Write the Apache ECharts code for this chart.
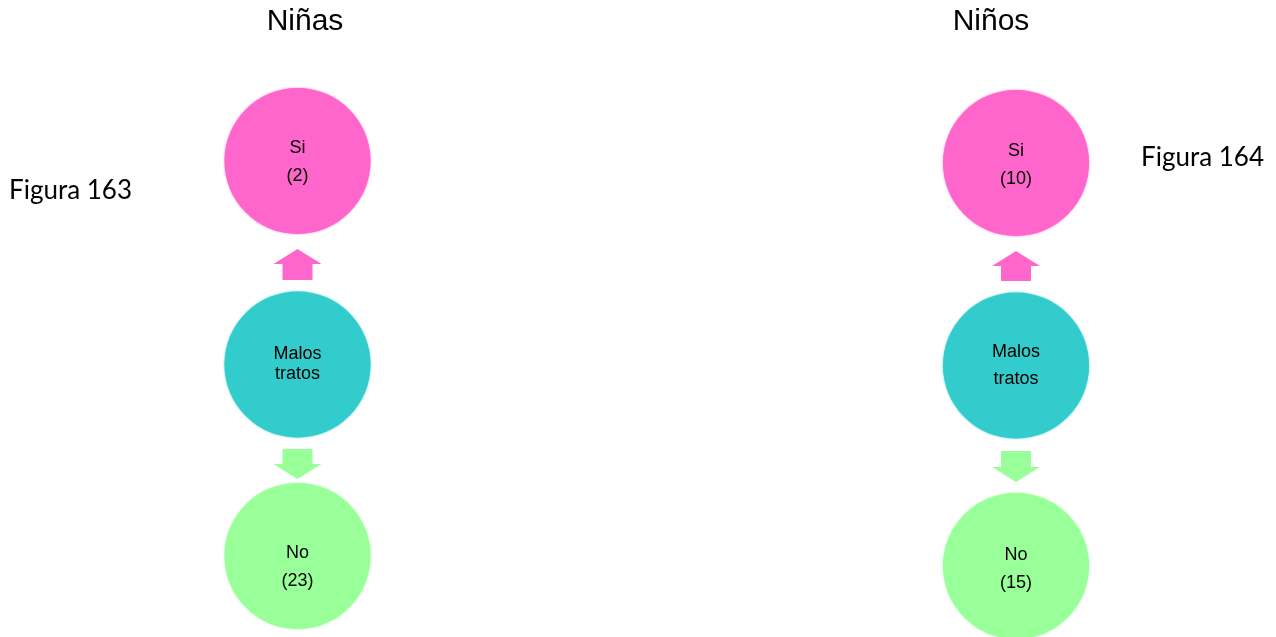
<!DOCTYPE html>
<html>
<head>
<meta charset="utf-8">
<script src="https://cdn.jsdelivr.net/npm/echarts@6/dist/echarts.min.js"></script>
<style>
html,body{margin:0;padding:0;background:#fff;}
#chart{width:1276px;height:637px;}
</style>
</head>
<body>
<div id="chart"></div>
<script>
// ---- data ----
var groups = ['Niñas', 'Niños'];
var figureLabels = ['Figura 163', 'Figura 164'];
var yesLabel = 'Si';
var noLabel = 'No';
var centerLabel = 'Malos\ntratos';
var yesValues = [2, 10];
var noValues = [23, 15];

// ---- layout (pixel space of a hidden 1276x637 value grid) ----
var layout = [
  { cx: 297.5, siY: 161, midY: 364.5, noY: 556, midLH: 20, upArrow: [249, 280], downArrow: [449, 479],
    titleX: 305, figX: 9, figY: 191, siOff: 1, noOff: 11 },
  { cx: 1016, siY: 163, midY: 365.5, noY: 566, midLH: 27, upArrow: [251, 281], downArrow: [451, 482],
    titleX: 991, figX: 1141, figY: 158, siOff: 2, noOff: 3 }
];
var R = 146;
var colors = { yes: '#FF66CC', mid: '#33CCCC', no: '#99FF99' };

var circleData = [];
groups.forEach(function (g, i) {
  var L = layout[i];
  circleData.push({ value: [L.cx, L.siY], name: yesLabel + '\n(' + yesValues[i] + ')',
    itemStyle: { color: colors.yes, shadowColor: colors.yes },
    label: { lineHeight: 28, offset: [0, L.siOff] } });
  circleData.push({ value: [L.cx, L.midY], name: centerLabel,
    itemStyle: { color: colors.mid, shadowColor: colors.mid },
    label: { lineHeight: L.midLH, offset: [0, 0] } });
  circleData.push({ value: [L.cx, L.noY], name: noLabel + '\n(' + noValues[i] + ')',
    itemStyle: { color: colors.no, shadowColor: colors.no },
    label: { lineHeight: 28, offset: [0, L.noOff] } });
});

var arrowData = [];
layout.forEach(function (L) {
  arrowData.push({ value: [L.cx, L.upArrow[0], L.upArrow[1], 1], itemStyle: { color: colors.yes } });
  arrowData.push({ value: [L.cx, L.downArrow[0], L.downArrow[1], -1], itemStyle: { color: colors.no } });
});

var graphics = [];
groups.forEach(function (g, i) {
  var L = layout[i];
  graphics.push({ type: 'text', x: L.titleX, y: 22,
    style: { text: g, font: '30px "Liberation Sans", Arial, sans-serif', fill: '#000',
      textAlign: 'center', textVerticalAlign: 'middle' } });
  graphics.push({ type: 'text', x: L.figX, y: L.figY,
    style: { text: figureLabels[i], font: '26px Lato, "Open Sans", sans-serif', fill: '#000',
      textAlign: 'left', textVerticalAlign: 'middle' } });
});

var chart = echarts.init(document.getElementById('chart'), null, { renderer: 'canvas' });
chart.setOption({
  animation: false,
  backgroundColor: '#fff',
  grid: { left: 0, right: 0, top: 0, bottom: 0 },
  xAxis: { type: 'value', min: 0, max: 1276, show: false },
  yAxis: { type: 'value', min: 0, max: 637, inverse: true, show: false },
  graphic: graphics,
  series: [
    {
      type: 'scatter',
      symbol: 'circle',
      symbolSize: R,
      data: circleData,
      itemStyle: { opacity: 1, shadowBlur: 2 },
      label: {
        show: true, position: 'inside',
        formatter: function (p) { return p.name; },
        color: '#000', fontSize: 18, fontFamily: '"Liberation Sans", Arial, sans-serif'
      },
      emphasis: { disabled: true },
      silent: true
    },
    {
      type: 'custom',
      data: arrowData,
      silent: true,
      renderItem: function (params, api) {
        var x = api.value(0), y0 = api.value(1), y1 = api.value(2), dir = api.value(3);
        var head = 15, shaftHalf = 15, headHalf = 24;
        var pts;
        if (dir > 0) {
          pts = [[x, y0], [x + headHalf, y0 + head], [x + shaftHalf, y0 + head], [x + shaftHalf, y1],
                 [x - shaftHalf, y1], [x - shaftHalf, y0 + head], [x - headHalf, y0 + head]];
        } else {
          pts = [[x - shaftHalf, y0], [x + shaftHalf, y0], [x + shaftHalf, y1 - head], [x + headHalf, y1 - head],
                 [x, y1], [x - headHalf, y1 - head], [x - shaftHalf, y1 - head]];
        }
        return {
          type: 'polygon',
          shape: { points: pts.map(function (p) { return api.coord(p); }) },
          style: { fill: api.visual('color') }
        };
      }
    }
  ]
});
</script>
</body>
</html>
